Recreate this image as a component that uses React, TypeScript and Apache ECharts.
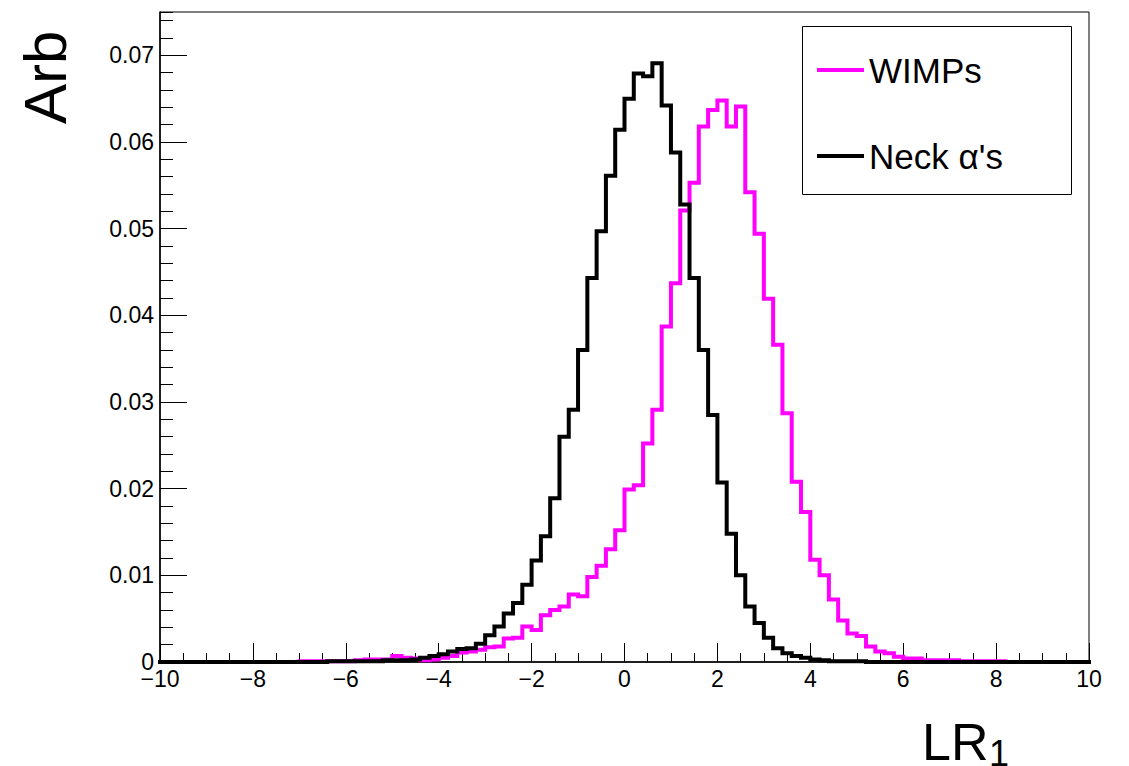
import React, { useEffect, useRef } from "react";
import * as echarts from "echarts";

// Histogram binning: 100 bins of width 0.2 from -10 to 10
const BIN_MIN = -10;
const BIN_WIDTH = 0.2;

// WIMPs (magenta) bin contents
const wimps = [
  0, 0, 0, 0, 0, 0, 0, 0, 0, 0,
  0, 0, 0, 0, 0, 0.0001, 0.0001, 0.0001, 0.0001, 0.0001,
  0.0001, 0.0002, 0.0003, 0.0003, 0.0003, 0.0007, 0.0005, 0.0004, 0.0002, 0.0003,
  0.0005, 0.0007, 0.0011, 0.0012, 0.0014, 0.0017, 0.0018, 0.0027, 0.0028, 0.0041,
  0.0037, 0.0054, 0.006, 0.0064, 0.0078, 0.0076, 0.0098, 0.0111, 0.013, 0.0152,
  0.0199, 0.0204, 0.0252, 0.0291, 0.0387, 0.0437, 0.0521, 0.0553, 0.0618, 0.0637,
  0.0648, 0.0618, 0.0641, 0.0542, 0.0494, 0.0419, 0.0366, 0.0287, 0.0208, 0.0173,
  0.0118, 0.01, 0.0072, 0.0048, 0.0033, 0.003, 0.0018, 0.0012, 0.001, 0.0006,
  0.0004, 0.0004, 0.0002, 0.0002, 0.0002, 0.0002, 0.0001, 0.0001, 0.0001, 0.0001,
  0.0001, 0, 0, 0, 0, 0, 0, 0, 0, 0,
];

// Neck alphas (black) bin contents
const neckAlphas = [
  0, 0, 0, 0, 0, 0, 0, 0, 0, 0,
  0, 0, 0, 0, 0, 0, 0, 0, 0.0001, 0.0001,
  0.0001, 0.0001, 0.0001, 0.0001, 0.0002, 0.0002, 0.0002, 0.0003, 0.0005, 0.0007,
  0.0009, 0.0012, 0.0015, 0.0016, 0.0021, 0.0031, 0.0041, 0.0056, 0.0068, 0.0089,
  0.0117, 0.0145, 0.0189, 0.026, 0.0291, 0.036, 0.0443, 0.0497, 0.0561, 0.0614,
  0.065, 0.0679, 0.0676, 0.0691, 0.0642, 0.0588, 0.0528, 0.0443, 0.036, 0.0285,
  0.0207, 0.0148, 0.01, 0.0064, 0.0045, 0.0028, 0.0016, 0.001, 0.0007, 0.0005,
  0.0003, 0.0002, 0.0001, 0.0001, 0.0001, 0.0001, 0, 0, 0, 0,
  0, 0, 0, 0, 0, 0, 0, 0, 0, 0,
  0, 0, 0, 0, 0, 0, 0, 0, 0, 0,
];

const seriesNames = ["WIMPs", "Neck \u03b1's"];
const seriesColors = ["#ff00ff", "#000000"];

function toSteps(values: number[]): [number, number][] {
  const pts: [number, number][] = values.map((v, i) => [
    Number((BIN_MIN + i * BIN_WIDTH).toFixed(2)),
    v,
  ]);
  pts.push([
    Number((BIN_MIN + values.length * BIN_WIDTH).toFixed(2)),
    values[values.length - 1],
  ]);
  return pts;
}

const FONT = "'Liberation Sans', Arial, Helvetica, sans-serif";

export default function App() {
  const ref = useRef<HTMLDivElement>(null);
  useEffect(() => {
    if (!ref.current) return;
    document.body.style.margin = "0";
    const chart = echarts.init(ref.current, undefined, { renderer: "svg" });
    const option: any = {
      animation: false,
      backgroundColor: "#ffffff",
      grid: {
        left: 160,
        right: 40,
        top: 12,
        bottom: 104,
        show: true,
        borderColor: "#000",
        borderWidth: 1,
        backgroundColor: "transparent",
      },
      xAxis: {
        type: "value",
        min: -10,
        max: 10,
        interval: 2,
        axisLine: { onZero: false, lineStyle: { color: "#000", width: 1.5 } },
        axisTick: { inside: true, length: 19, lineStyle: { color: "#000", width: 1 } },
        minorTick: { show: true, splitNumber: 4, length: 9, lineStyle: { color: "#000", width: 1 } },
        splitLine: { show: false },
        axisLabel: {
          color: "#000",
          fontFamily: FONT,
          fontSize: 23,
          lineHeight: 18,
          margin: 8,
          formatter: (v: number) => String(v).replace("-", "\u2212"),
        },
      },
      yAxis: [
        {
          type: "value",
          position: "left",
          min: 0,
          max: 0.075,
          interval: 0.01,
          axisLine: { onZero: false, lineStyle: { color: "#000", width: 1.5 } },
          axisTick: { inside: true, length: 27, lineStyle: { color: "#000", width: 1 } },
          splitLine: { show: false },
          axisLabel: {
            color: "#000",
            fontFamily: FONT,
            fontSize: 23,
            lineHeight: 16,
            margin: 6,
            showMaxLabel: false,
            formatter: (v: number) => {
              const k = Math.round(v * 100);
              if (Math.abs(v * 100 - k) > 1e-6) return "";
              return k === 0 ? "0" : (k / 100).toFixed(2);
            },
          },
        },
        {
          type: "value",
          position: "left",
          min: 0,
          max: 0.075,
          interval: 0.002,
          axisLine: { show: false, onZero: false },
          axisTick: { inside: true, length: 13, lineStyle: { color: "#000", width: 1 } },
          splitLine: { show: false },
          axisLabel: { show: false },
        },
      ],
      legend: {
        orient: "vertical",
        left: 812,
        top: 45,
        itemWidth: 47,
        itemHeight: 4,
        itemGap: 46,
        icon: "rect",
        textStyle: {
          fontFamily: FONT,
          fontSize: 35,
          color: "#000",
          lineHeight: 40,
        },
        data: seriesNames,
      },
      series: [
        {
          name: seriesNames[0],
          type: "line",
          step: "end",
          yAxisIndex: 0,
          symbol: "none",
          data: toSteps(wimps),
          itemStyle: { color: seriesColors[0] },
          lineStyle: { color: seriesColors[0], width: 4, join: "miter", cap: "square" },
        },
        {
          name: seriesNames[1],
          type: "line",
          step: "end",
          yAxisIndex: 0,
          symbol: "none",
          data: toSteps(neckAlphas),
          itemStyle: { color: seriesColors[1] },
          lineStyle: { color: seriesColors[1], width: 4, join: "miter", cap: "square" },
        },
      ],
      graphic: [
        {
          type: "rect",
          shape: { x: 802.5, y: 26.5, width: 269, height: 168 },
          style: { fill: "none", stroke: "#000", lineWidth: 1 },
          z: 10,
        },
        {
          type: "text",
          x: 75,
          y: 124,
          rotation: Math.PI / 2,
          style: {
            text: "Arb",
            font: `60px ${FONT}`,
            fill: "#000",
            align: "left",
            verticalAlign: "bottom",
          },
        },
        {
          type: "text",
          x: 922,
          y: 768,
          style: {
            text: "LR",
            font: `52px ${FONT}`,
            fill: "#000",
            align: "left",
            verticalAlign: "bottom",
          },
        },
        {
          type: "text",
          x: 989,
          y: 771,
          style: {
            text: "1",
            font: `36px ${FONT}`,
            fill: "#000",
            align: "left",
            verticalAlign: "bottom",
          },
        },
      ],
    };
    chart.setOption(option);
    return () => chart.dispose();
  }, []);
  return (
    <div
      ref={ref}
      style={{ position: "fixed", left: 0, top: 0, width: 1129, height: 766 }}
    />
  );
}
